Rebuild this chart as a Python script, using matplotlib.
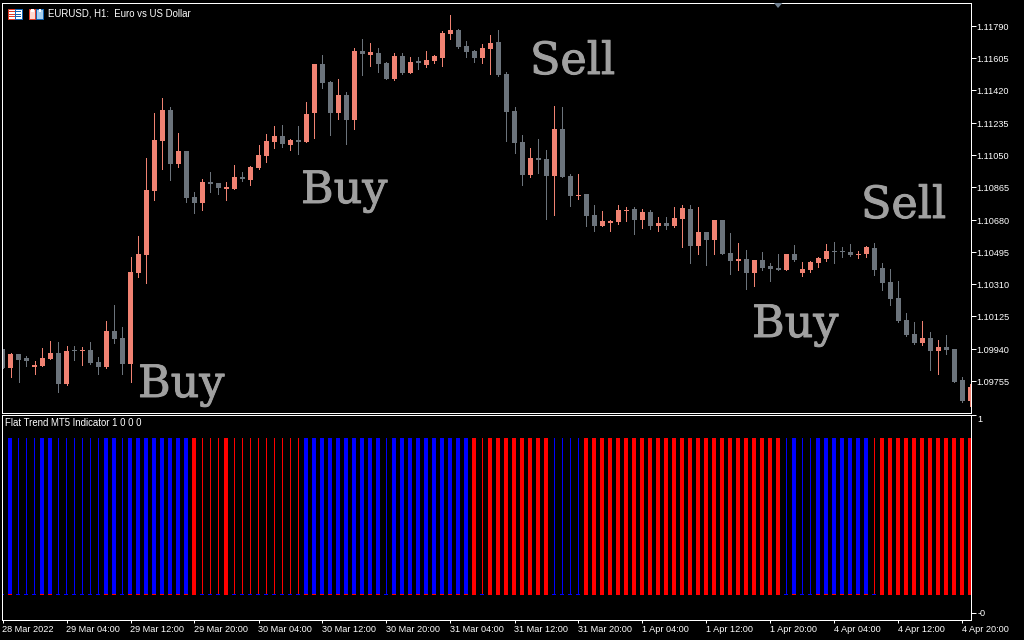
import numpy as np
import matplotlib
matplotlib.use("Agg")
import matplotlib.pyplot as plt
import matplotlib.patheffects as pe
from matplotlib.patches import Rectangle, Polygon
from matplotlib.transforms import Affine2D

# EURUSD H1 quotes in points (1.10495 -> 110495)
opens = [
    109932, 109823, 109903, 109881, 109829, 109835, 109875, 109909, 109732, 109926,
    109921, 109926, 109858, 109829, 110035, 109995, 109846, 110368, 110471, 110838,
    111125, 111302, 110993, 111067, 110804, 110769, 110890, 110884, 110849, 110849,
    110918, 110901, 110970, 111039, 111119, 111153, 111102, 111130, 111119, 111285,
    111566, 111463, 111285, 111388, 111245, 111641, 111618, 111629, 111572, 111480,
    111612, 111514, 111583, 111560, 111583, 111600, 111738, 111761, 111669, 111641,
    111600, 111652, 111692, 111509, 111297, 111119, 110930, 111027, 111021, 110924,
    111193, 110924, 110809, 110821, 110700, 110637, 110655, 110660, 110723, 110735,
    110672, 110718, 110637, 110655, 110637, 110677, 110735, 110523, 110603, 110557,
    110672, 110483, 110437, 110448, 110368, 110442, 110408, 110397, 110385, 110477,
    110368, 110385, 110425, 110448, 110494, 110494, 110488, 110471, 110477, 110511,
    110397, 110316, 110225, 110098, 110018, 109967, 109995, 109921, 109944, 109932,
    109754, 109634,
]
highs = [
    109932, 109909, 109903, 109892, 109863, 109938, 109978, 109972, 109949, 109949,
    109944, 109972, 109886, 110093, 110184, 110058, 110460, 110580, 111027, 111285,
    111371, 111320, 111171, 111067, 110832, 110907, 110947, 110884, 110890, 110987,
    110947, 110981, 111102, 111165, 111211, 111216, 111136, 111211, 111348, 111566,
    111618, 111469, 111480, 111406, 111658, 111709, 111686, 111658, 111578, 111629,
    111629, 111606, 111606, 111641, 111618, 111755, 111847, 111767, 111698, 111646,
    111681, 111732, 111761, 111520, 111320, 111159, 111085, 111136, 111073, 111325,
    111320, 110935, 110935, 110821, 110758, 110723, 110672, 110758, 110746, 110746,
    110735, 110729, 110689, 110689, 110746, 110758, 110758, 110746, 110603, 110672,
    110672, 110597, 110540, 110500, 110442, 110488, 110425, 110477, 110477, 110528,
    110431, 110437, 110460, 110534, 110546, 110517, 110534, 110494, 110523, 110540,
    110425, 110391, 110322, 110139, 110087, 110093, 110030, 109984, 110012, 109932,
    109772, 109732,
]
lows = [
    109823, 109772, 109743, 109835, 109789, 109835, 109875, 109686, 109726, 109869,
    109840, 109846, 109789, 109823, 109967, 109789, 109743, 110345, 110311, 110786,
    110964, 110901, 110976, 110775, 110712, 110729, 110832, 110821, 110786, 110849,
    110895, 110872, 110964, 111004, 111085, 111090, 111073, 111050, 111119, 111142,
    111428, 111159, 111251, 111107, 111193, 111503, 111555, 111520, 111480, 111474,
    111509, 111514, 111537, 111549, 111572, 111555, 111709, 111658, 111606, 111578,
    111572, 111509, 111497, 111125, 111056, 110872, 110918, 110941, 110677, 110700,
    110918, 110752, 110792, 110637, 110609, 110637, 110609, 110649, 110666, 110591,
    110626, 110620, 110609, 110620, 110632, 110517, 110425, 110477, 110414, 110477,
    110477, 110362, 110385, 110276, 110293, 110385, 110322, 110385, 110385, 110437,
    110351, 110374, 110402, 110437, 110425, 110460, 110465, 110454, 110460, 110356,
    110270, 110184, 110087, 110007, 109961, 109955, 109812, 109789, 109903, 109743,
    109628, 109605,
]
closes = [
    109823, 109903, 109869, 109863, 109840, 109881, 109909, 109732, 109921, 109921,
    109926, 109852, 109829, 110035, 109990, 109846, 110374, 110477, 110844, 111130,
    111302, 110993, 111067, 110798, 110769, 110890, 110878, 110855, 110861, 110918,
    110907, 110976, 111044, 111125, 111153, 111107, 111130, 111119, 111279, 111566,
    111457, 111285, 111388, 111245, 111641, 111623, 111635, 111566, 111480, 111612,
    111514, 111578, 111572, 111589, 111612, 111744, 111761, 111664, 111635, 111600,
    111658, 111686, 111503, 111291, 111113, 110930, 111027, 111016, 110924, 111193,
    110918, 110809, 110815, 110695, 110637, 110666, 110666, 110729, 110729, 110672,
    110718, 110637, 110655, 110637, 110683, 110741, 110523, 110603, 110557, 110672,
    110477, 110437, 110448, 110368, 110442, 110397, 110391, 110385, 110477, 110442,
    110391, 110431, 110454, 110494, 110488, 110488, 110471, 110477, 110517, 110385,
    110311, 110219, 110093, 110012, 109967, 109995, 109921, 109944, 109926, 109743,
    109634, 109714,
]

# Flat Trend indicator: colour of each bar and the bars drawn thin
trend = list("BBBBBBBBBBBBBBBBBBBBBBBB" "RRRRRRRRRRRRRR" "BBBBBBBBBBBBBBBBBBBBB"
             "RRRRRRRRRR" "BBBB" "RRRRRRRRRRRRRRRRRRRRRRRRR" "BBBBBBBBBBB" "RRRRRRRRRRRRR")
thin_bars = [0, 2, 3, 4, 7, 8, 9, 10, 11, 12, 15, 25, 26, 27, 29, 30, 31, 32, 33, 34, 35, 36, 37,
             48, 60, 69, 70, 71, 72, 98, 100, 101, 109]
hist_level = 0.87

price_ticks = [1.11790, 1.11605, 1.11420, 1.11235, 1.11050, 1.10865,
               1.10680, 1.10495, 1.10310, 1.10125, 1.09940, 1.09755]
time_ticks = [0, 8, 16, 24, 32, 40, 48, 56, 64, 72, 80, 88, 96, 104, 112, 120]
time_labels = ["28 Mar 2022", "29 Mar 04:00", "29 Mar 12:00", "29 Mar 20:00", "30 Mar 04:00",
               "30 Mar 12:00", "30 Mar 20:00", "31 Mar 04:00", "31 Mar 12:00", "31 Mar 20:00",
               "1 Apr 04:00", "1 Apr 12:00", "1 Apr 20:00", "4 Apr 04:00", "4 Apr 12:00",
               "4 Apr 20:00"]
signal_labels = ["Buy", "Buy", "Sell", "Buy", "Sell"]
signal_x = [138, 301, 530, 752, 861]
signal_y = [397, 203, 74, 337, 218]

W, H = 1024, 640
UP = "#f08272"
DOWN = "#6b737b"

plt.rcParams["font.family"] = "Liberation Sans"
fig = plt.figure(figsize=(W / 100, H / 100), dpi=100, facecolor="black")


def panel(left, top, right, bottom):
    ax = fig.add_axes([left / W, 1 - bottom / H, (right - left) / W, (bottom - top) / H])
    ax.set_facecolor("black")
    for s in ax.spines.values():
        s.set_color("white")
        s.set_linewidth(0.72)
    # one bar every 8 px, bar 0 centred on px 2.5
    ax.set_xlim((left - 2.5) / 8, (right - 2.5) / 8)
    return ax


x = np.arange(len(opens))
o, h, l, c = [np.array(v) / 1e5 for v in (opens, highs, lows, closes)]
colors = [UP if c[i] >= o[i] else DOWN for i in x]

# candles
ax = panel(2, 3, 971, 413)
ax.set_ylim(1.11933 - 413 * 5.733e-5, 1.11933 - 3 * 5.733e-5)
ax.vlines(x, l, h, colors=colors, linewidth=0.72, antialiased=False)
ax.bar(x, np.abs(c - o), bottom=np.minimum(o, c), width=5 / 8, color=colors,
       linewidth=0, antialiased=False)
ax.yaxis.tick_right()
ax.set_yticks(price_ticks)
ax.set_yticklabels([f"{p:.5f}" for p in price_ticks])
ax.tick_params(axis="y", colors="white", length=3.6, width=0.72, pad=0, labelsize=6.6)
ax.set_xticks([])
for tick in ax.yaxis.get_major_ticks():
    tick.tick2line.set_transform(tick.tick2line.get_transform() + Affine2D().translate(0, -1))
    tick.label2.set_transform(tick.label2.get_transform() + Affine2D().translate(0, -1.5))

# indicator
sub = panel(2, 415, 971, 620)
sub.set_ylim(-26 / 179, 1)
is_thin = np.isin(x, thin_bars)
widths = np.where(is_thin, 1 / 8, 4 / 8)
bar_x = x - np.where(is_thin, 0, 0.5 / 8)
bar_colors = ["#0000ff" if s == "B" else "#ff0000" for s in trend]
sub.bar(bar_x, hist_level, width=widths, color=bar_colors, linewidth=0, antialiased=False)
foot_colors = ["#0000ff" if t else "#ff0000" for t in is_thin]
sub.bar(x - 0.5 / 8, 1 / 179, bottom=-1 / 179, width=4 / 8, color=foot_colors,
        linewidth=0, antialiased=False)
sub.yaxis.tick_right()
sub.set_yticks([1, -0.106])
sub.set_yticklabels(["1", "-0"])
sub.set_xticks(time_ticks)
sub.set_xticklabels(time_labels, ha="left")
sub.tick_params(axis="both", colors="white", width=0.72, labelsize=6.6)
sub.tick_params(axis="y", length=3.6, pad=1.2)
sub.tick_params(axis="x", length=2.5, pad=0.8)
sub.get_yticklabels()[0].set_va("top")

# overlay in pixels for the chart furniture and the Buy / Sell captions
top = fig.add_axes([0, 0, 1, 1], facecolor="none")
top.set_xlim(0, W)
top.set_ylim(H, 0)
top.axis("off")
top.text(48, 13.5, "EURUSD, H1:  Euro vs US Dollar", color="white", fontsize=6.9, va="center")
top.text(5, 423.5, "Flat Trend MT5 Indicator 1 0 0 0", color="white", fontsize=6.9, va="center")
for label, tx, ty in zip(signal_labels, signal_x, signal_y):
    top.text(tx, ty, label, color="#a0a0a0", fontsize=32, family="DejaVu Serif", va="baseline",
             path_effects=[pe.withStroke(linewidth=0.7, foreground="#a0a0a0")])

top.add_patch(Polygon([[774, 3], [782.5, 3], [778, 8]], color="#708090", linewidth=0))

# toolbar icons
top.add_patch(Rectangle((7.5, 8.5), 7, 10, fc="white", ec="#e03c28", lw=0.72))
top.add_patch(Rectangle((14.5, 8.5), 7, 10, fc="white", ec="#1464b4", lw=0.72))
for yy in (11, 13.5, 16):
    top.plot([9, 14], [yy, yy], color="#e03c28", lw=0.72)
    top.plot([15, 20], [yy, yy], color="#1464b4", lw=0.72)
top.add_patch(Rectangle((28.5, 8.5), 6.5, 10, fc="#ffd8d0", ec="#e03c28", lw=0.72))
top.add_patch(Rectangle((36, 8.5), 6.5, 10, fc="#a8d0f0", ec="#1464b4", lw=0.72))
top.add_patch(Rectangle((31, 8.5), 2.5, 3.5, fc="white", ec="none"))
top.add_patch(Rectangle((38.5, 8.5), 2.5, 3.5, fc="white", ec="none"))

fig.savefig("out.png", dpi=100, facecolor="black")
